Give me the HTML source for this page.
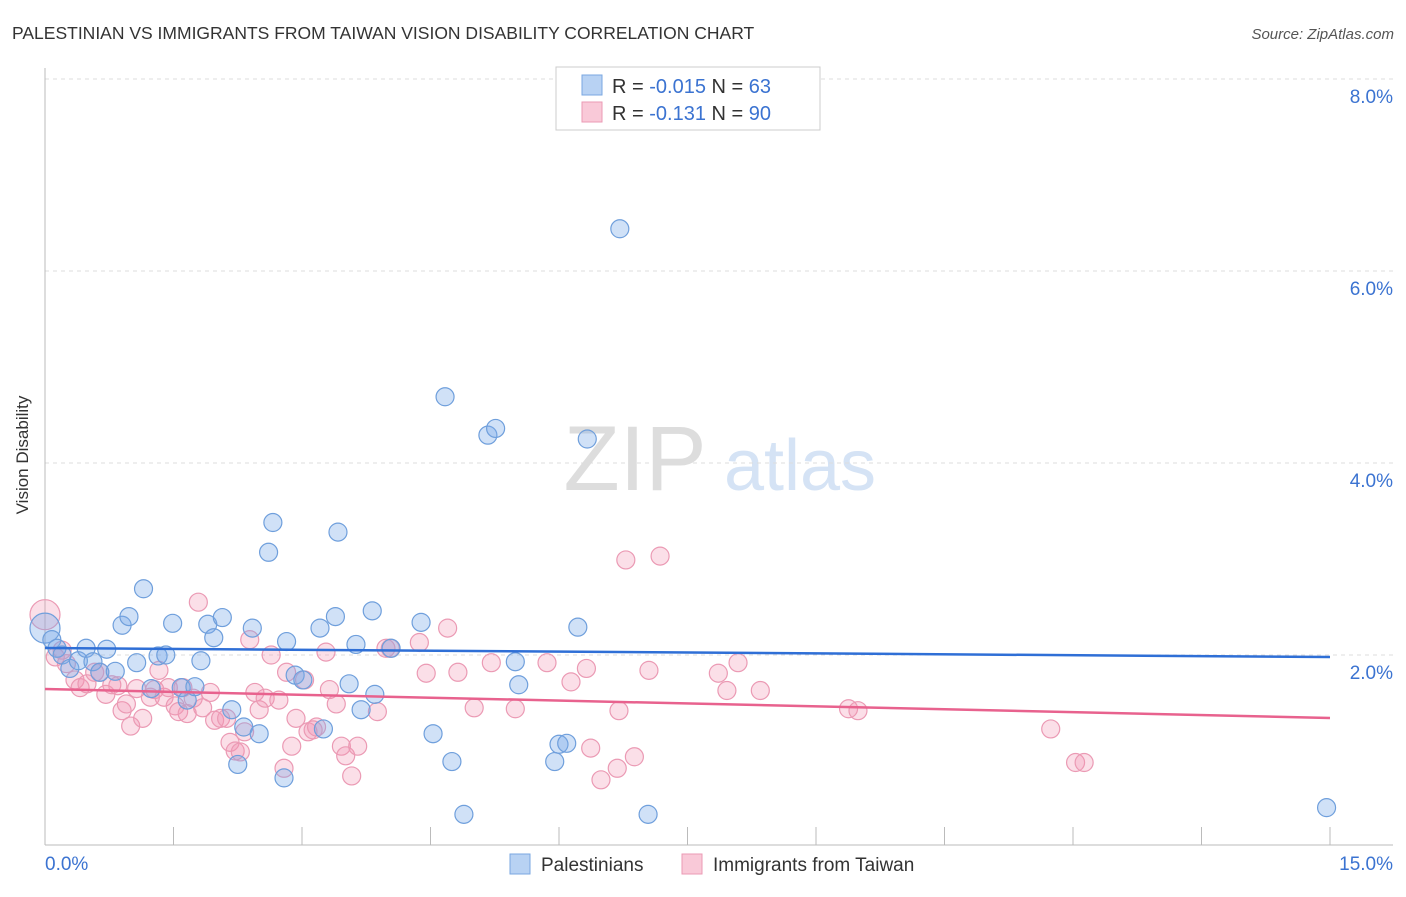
<!DOCTYPE html>
<html><head><meta charset="utf-8"><style>
body{margin:0;background:#fff;font-family:"Liberation Sans",sans-serif;}
svg text{font-family:"Liberation Sans",sans-serif;}
</style></head><body>
<svg id="c" width="1406" height="892" xmlns="http://www.w3.org/2000/svg">
<text x="12" y="39" font-size="17.5" fill="#333">PALESTINIAN VS IMMIGRANTS FROM TAIWAN VISION DISABILITY CORRELATION CHART</text>
<text x="1394" y="39" font-size="15" fill="#555" font-style="italic" text-anchor="end">Source: ZipAtlas.com</text>
<text x="28" y="455" font-size="17" fill="#333" text-anchor="middle" transform="rotate(-90 28 455)">Vision Disability</text>
<g><text x="635" y="490" font-size="92" fill="#ddd" font-family="Liberation Serif" text-anchor="middle">ZIP</text><text x="800" y="490" font-size="72" fill="#d5e3f5" text-anchor="middle">atlas</text></g>
<g id="grid"></g><g id="axes"></g><g id="pts"></g><g id="trend"></g>
<g>
<rect x="556" y="67" width="264" height="63" fill="#fff" stroke="#ccc"/>
<rect x="582" y="75" width="20" height="20" fill="#b8d2f3" stroke="#7aa7e0"/>
<text x="612" y="93" font-size="20" fill="#333">R = <tspan fill="#3b73d1">-0.015</tspan>   N = <tspan fill="#3b73d1">63</tspan></text>
<rect x="582" y="102" width="20" height="20" fill="#f9c9d8" stroke="#eb9ab4"/>
<text x="612" y="120" font-size="20" fill="#333">R =  <tspan fill="#3b73d1">-0.131</tspan>   N = <tspan fill="#3b73d1">90</tspan></text>
</g>
<g>
<rect x="510" y="854" width="20" height="20" fill="#b8d2f3" stroke="#7aa7e0"/>
<text x="541" y="871" font-size="19" fill="#333">Palestinians</text>
<rect x="682" y="854" width="20" height="20" fill="#f9c9d8" stroke="#eb9ab4"/>
<text x="713" y="871" font-size="19" fill="#333">Immigrants from Taiwan</text>
</g>
</svg>
<script>
const yTicks=[2,4,6,8];
const yTickLabels=["2.0%","4.0%","6.0%","8.0%"];
const xTicks=[0,1.5,3,4.5,6,7.5,9,10.5,12,13.5,15];
const blueX=[0,0.08,0.14,0.2,0.29,0.39,0.48,0.56,0.64,0.72,0.82,0.9,0.98,1.07,1.15,1.24,1.32,1.41,1.49,1.59,1.66,1.75,1.82,1.9,1.97,2.07,2.18,2.25,2.32,2.42,2.5,2.61,2.66,2.79,2.82,2.92,3.01,3.21,3.25,3.39,3.42,3.55,3.63,3.69,3.82,3.85,4.04,4.39,4.53,4.67,4.75,4.89,5.17,5.26,5.49,5.53,5.95,6.0,6.09,6.22,6.33,6.71,7.04,14.96];
const blueY=[2.28,2.16,2.07,2.0,1.86,1.94,2.07,1.93,1.82,2.06,1.83,2.31,2.4,1.92,2.69,1.65,1.99,2.0,2.33,1.66,1.53,1.67,1.94,2.32,2.18,2.39,1.43,0.86,1.25,2.28,1.18,3.07,3.38,0.72,2.14,1.79,1.74,2.28,1.23,2.4,3.28,1.7,2.11,1.43,2.46,1.59,2.07,2.34,1.18,4.69,0.89,0.34,4.29,4.36,1.93,1.69,0.89,1.07,1.08,2.29,4.25,6.44,0.34,0.41];
const pinkX=[0,0.12,0.2,0.25,0.35,0.41,0.49,0.58,0.64,0.71,0.78,0.85,0.9,0.95,1.0,1.07,1.14,1.23,1.28,1.33,1.39,1.44,1.52,1.56,1.61,1.66,1.73,1.79,1.84,1.93,1.98,2.05,2.12,2.16,2.22,2.28,2.33,2.39,2.45,2.5,2.57,2.64,2.73,2.79,2.82,2.88,2.93,3.03,3.07,3.13,3.17,3.28,3.32,3.4,3.46,3.51,3.58,3.65,3.88,3.98,4.03,4.37,4.45,4.7,4.82,5.01,5.21,5.49,5.86,6.14,6.32,6.37,6.49,6.68,6.7,6.78,6.88,7.05,7.18,7.86,7.96,8.09,8.35,9.38,9.49,11.74,12.03,12.13];
const pinkY=[2.42,1.98,2.05,1.91,1.74,1.66,1.7,1.82,1.82,1.59,1.69,1.68,1.42,1.49,1.26,1.65,1.34,1.56,1.64,1.84,1.56,1.66,1.47,1.41,1.66,1.39,1.55,2.55,1.45,1.61,1.32,1.34,1.34,1.09,1.0,0.99,1.2,2.16,1.61,1.43,1.55,2.0,1.53,0.82,1.82,1.05,1.34,1.74,1.2,1.22,1.25,2.03,1.64,1.49,1.05,0.95,0.74,1.05,1.41,2.07,2.07,2.13,1.81,2.28,1.82,1.45,1.92,1.44,1.92,1.72,1.86,1.03,0.7,0.82,1.42,2.99,0.94,1.84,3.03,1.81,1.63,1.92,1.63,1.44,1.42,1.23,0.88,0.88];
const blueTrend=[2.073,1.979];
const pinkTrend=[1.646,1.344];
const NS="http://www.w3.org/2000/svg";
const X=v=>45+v*(1330-45)/15, Y=v=>847-v*96;
function mk(t,a,p){const e=document.createElementNS(NS,t);for(const k in a)e.setAttribute(k,a[k]);document.getElementById(p).appendChild(e);return e;}
yTicks.forEach((t,i)=>{
 const g=mk('line',{x1:45,x2:1393,y1:Y(t),y2:Y(t),stroke:'#ddd','stroke-dasharray':'4,4'},'grid');
 
 
 const l=mk('text',{x:1393,y:Y(t)+24,'font-size':19,fill:'#3b73d1','text-anchor':'end'},'grid');
 l.textContent=yTickLabels[i];
 
 
});
const ax=mk('line',{x1:45,x2:45,y1:68,y2:845,stroke:'#bbb'},'axes');


const bx=mk('line',{x1:45,x2:1393,y1:845,y2:845,stroke:'#bbb'},'axes');


xTicks.forEach(t=>{
 const k=mk('line',{x1:X(t),x2:X(t),y1:827,y2:845,stroke:'#bbb'},'axes');
 
 
});
[["0.0%",45,'start'],["15.0%",1393,'end']].forEach(a=>{
 const l=mk('text',{x:a[1],y:870,'font-size':19,fill:'#3b73d1','text-anchor':a[2]},'axes');
 l.textContent=a[0];
 
 
});
function series(xs,ys,fill,stroke,name){
 xs.forEach((x,i)=>{
  const c=mk('circle',{cx:X(x),cy:Y(ys[i]),r:(x===0?15:9),fill:fill,stroke:stroke,'stroke-width':1.2},'pts');
  
  
 });
}
series(pinkX,pinkY,'rgba(242,150,180,0.3)','#eb9ab4','taiwan-point');
series(blueX,blueY,'rgba(120,170,232,0.35)','#6f9fdc','palestinian-point');
const tb=mk('line',{x1:X(0),x2:X(15),y1:Y(blueTrend[0]),y2:Y(blueTrend[1]),stroke:'#2f6fd6','stroke-width':2.5},'trend');


const tp=mk('line',{x1:X(0),x2:X(15),y1:Y(pinkTrend[0]),y2:Y(pinkTrend[1]),stroke:'#e8628e','stroke-width':2.5},'trend');


</script>
</body></html>
